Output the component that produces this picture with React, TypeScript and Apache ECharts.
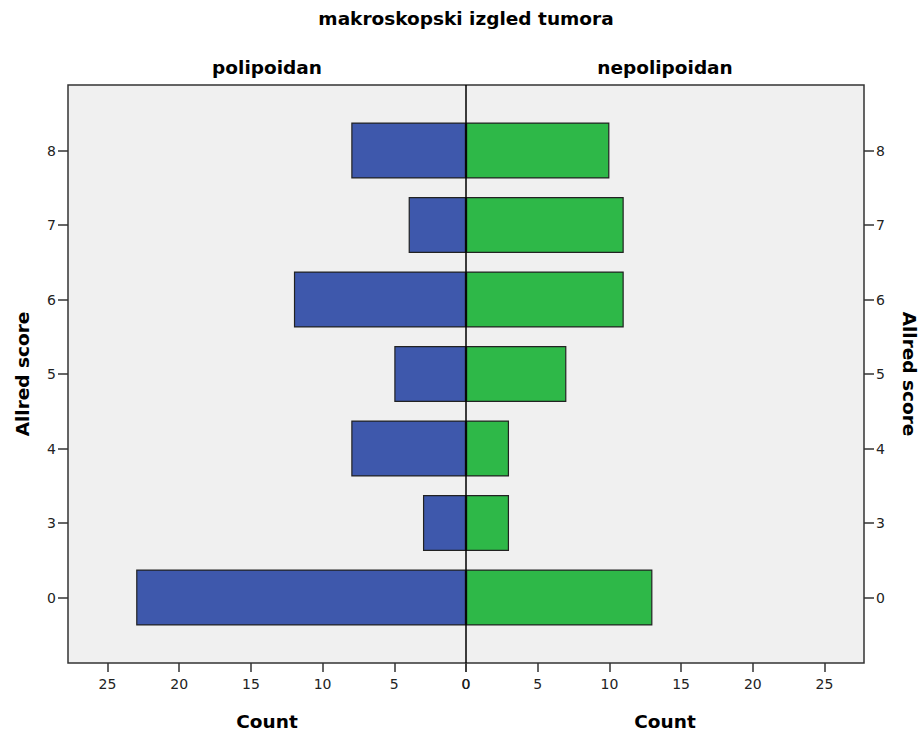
import React, { useEffect, useRef } from "react";
import * as echarts from "echarts";

const categories = ["0", "3", "4", "5", "6", "7", "8"];
const polipoidan = [23, 3, 8, 5, 12, 4, 8];
const nepolipoidan = [13, 3, 3, 7, 11, 11, 10];
const countMax = 25;
const countStep = 5;

const chartTitle = "makroskopski izgled tumora";
const leftPanel = "polipoidan";
const rightPanel = "nepolipoidan";
const yName = "Allred score";
const xName = "Count";

export default function App() {
  const ref = useRef<HTMLDivElement>(null);
  useEffect(() => {
    document.body.style.margin = "0";
    const chart = echarts.init(ref.current!, null, { renderer: "svg" });
    const FONT = "DejaVu Sans";
    const plotLeft = 68;
    const plotTop = 85;
    const plotW = 796;
    const plotH = 578;
    const half = plotW / 2;
    const mid = plotLeft + half;
    const pxPerUnit = 14.34;
    const axisW = countMax * pxPerUnit;
    const sideGap = half - axisW;
    const band = 74.5;
    const catH = band * categories.length;
    const center = plotTop + plotH / 2;
    const gTop = center - catH / 2;
    const pad = plotTop + plotH - (gTop + catH);
    const LINE = "#333";

    const axisLabelStyle = { color: "#222", fontFamily: FONT, fontSize: 14 };
    const xAxisCommon = (inverse: boolean, gridIndex: number) => ({
      type: "value",
      gridIndex,
      min: 0,
      max: countMax,
      interval: countStep,
      inverse,
      offset: pad,
      axisLine: { show: false, onZero: false },
      axisTick: { show: true, inside: false, length: 9, lineStyle: { color: LINE, width: 1.5 } },
      axisLabel: { ...axisLabelStyle, margin: 14 },
      splitLine: { show: false },
    });
    const yAxisCommon = (position: string, gridIndex: number) => ({
      type: "category",
      gridIndex,
      data: categories,
      position,
      offset: sideGap,
      axisLine: { show: false, onZero: false },
      axisTick: { show: true, inside: false, length: 10, alignWithLabel: true, lineStyle: { color: LINE, width: 1.5 } },
      axisLabel: { ...axisLabelStyle, margin: 12 },
      splitLine: { show: false },
    });

    const boldText = (text: string, x: number, y: number, rotation = 0) => ({
      type: "text",
      x,
      y,
      rotation,
      z: 50,
      style: {
        text,
        fill: "#000",
        font: `bold 18.5px "${FONT}"`,
        align: "center",
        verticalAlign: "middle",
      },
    });

    chart.setOption({
      animation: false,
      backgroundColor: "#ffffff",
      grid: [
        { left: mid - axisW, top: gTop, width: axisW, height: catH },
        { left: mid, top: gTop, width: axisW, height: catH },
      ],
      xAxis: [xAxisCommon(true, 0), xAxisCommon(false, 1)],
      yAxis: [yAxisCommon("left", 0), yAxisCommon("right", 1)],
      series: [
        {
          type: "bar",
          name: leftPanel,
          xAxisIndex: 0,
          yAxisIndex: 0,
          data: polipoidan,
          barWidth: 56,
          itemStyle: { color: "#3E58AC", borderColor: "#222", borderWidth: 1.2 },
        },
        {
          type: "bar",
          name: rightPanel,
          xAxisIndex: 1,
          yAxisIndex: 1,
          data: nepolipoidan,
          barWidth: 56,
          itemStyle: { color: "#2EB848", borderColor: "#222", borderWidth: 1.2 },
        },
      ],
      graphic: [
        {
          type: "rect",
          z: -10,
          shape: { x: plotLeft, y: plotTop, width: plotW, height: plotH },
          style: { fill: "#F0F0F0", stroke: LINE, lineWidth: 1.5 },
        },
        {
          type: "line",
          z: 100,
          shape: { x1: mid, y1: plotTop, x2: mid, y2: plotTop + plotH },
          style: { stroke: "#000", lineWidth: 1.5 },
        },
        boldText(chartTitle, mid, 18),
        boldText(leftPanel, plotLeft + half / 2, 67),
        boldText(rightPanel, plotLeft + half * 1.5, 67),
        boldText(xName, plotLeft + half / 2, 721),
        boldText(xName, plotLeft + half * 1.5, 721),
        boldText(yName, 22, center, Math.PI / 2),
        boldText(yName, 909, center, -Math.PI / 2),
      ],
    });
    return () => chart.dispose();
  }, []);
  return <div ref={ref} style={{ width: 922, height: 736 }} />;
}
